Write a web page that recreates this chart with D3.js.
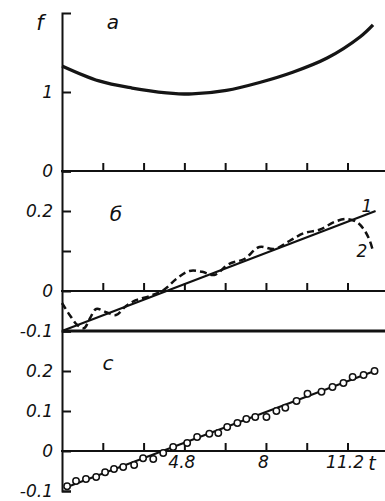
<!DOCTYPE html>
<html lang="en">
<head>
<meta charset="UTF-8">
<title>f(t) panels</title>
<script src="https://cdn.jsdelivr.net/npm/d3@7"></script>
<style>
  body { margin: 0; background: #fff; }
  svg { display: block; }
  text { font-family: "DejaVu Sans", sans-serif; font-style: italic; fill: #111; }
  .axis path, .axis line { stroke: #111; stroke-width: 2; }
  .axis text { font-size: 17px; font-family: "DejaVu Sans", sans-serif; font-style: italic; }
</style>
</head>
<body>
<script>
// x ticks (t)
const tickT = [1.6, 3.2, 4.8, 6.4, 8, 9.6, 11.2];
const labelT = [4.8, 8, 11.2];

// panel a: f(t)
const fT = [0, 1.45, 2.75, 4.1, 5.1, 6.45, 7.75, 9.05, 10.4, 11.7, 12.2];
const fV = [1.33, 1.14, 1.05, 0.99, 0.975, 1.02, 1.12, 1.25, 1.43, 1.70, 1.85];

// panel b: straight line 1 and dashed curve 2
const lineT = [0, 12.3];
const lineV = [-0.1, 0.2];
const dashT = [0, 0.3, 0.6, 0.86, 1.1, 1.34, 1.73, 2.12, 2.5, 2.9, 3.42, 4.0, 4.48, 5.0, 5.5, 5.97,
  6.56, 7.15, 7.74, 8.33, 8.92, 9.5, 10.1, 10.7, 11.16, 11.55, 11.83, 12.06, 12.2];
const dashV = [-0.03, -0.06, -0.085, -0.093, -0.068, -0.045, -0.053, -0.06, -0.038, -0.023, -0.013, 0.003,
  0.03, 0.05, 0.048, 0.04, 0.068, 0.08, 0.11, 0.105, 0.125, 0.145, 0.153, 0.173, 0.18, 0.173, 0.155, 0.128, 0.1];

// panel c: fitted line and measured points
const fitT = [0.2, 12.26];
const fitV = [-0.09, 0.2];
const dotT = [0.2, 0.55, 0.94, 1.34, 1.69, 2.04, 2.4, 2.83, 3.18, 3.58, 3.97, 4.36, 4.91, 5.3, 5.78, 6.13,
  6.48, 6.88, 7.23, 7.58, 8.02, 8.41, 8.76, 9.2, 9.63, 10.18, 10.61, 11.04, 11.4, 11.83, 12.26];
const dotV = [-0.088, -0.075, -0.07, -0.065, -0.053, -0.045, -0.04, -0.035, -0.018, -0.02, -0.005, 0.01,
  0.02, 0.035, 0.043, 0.045, 0.06, 0.07, 0.08, 0.085, 0.085, 0.1, 0.108, 0.125, 0.143, 0.148, 0.16, 0.17,
  0.185, 0.19, 0.2];

let width = 385;
let height = 501;

let svg = d3.select('body').append('svg')
  .attr('width', width)
  .attr('height', height);

let x = d3.scaleLinear().domain([0, 12.67]).range([62, 385]);
let yA = d3.scaleLinear().domain([0, 2]).range([171, 13]);
let yB = d3.scaleLinear().domain([-0.1, 0.3]).range([331, 171]);
let yC = d3.scaleLinear().domain([-0.1, 0.3]).range([491, 331]);

function yAxis(scale, values, fmt) {
  return d3.axisLeft(scale)
    .tickValues(values)
    .tickSizeInner(-9)
    .tickSizeOuter(-9)
    .tickPadding(9)
    .tickFormat(fmt);
}

function xAxis(y, withLabels) {
  let g = svg.append('g')
    .attr('class', 'axis')
    .attr('transform', 'translate(0,' + y + ')')
    .call(d3.axisBottom(x)
      .tickValues(tickT)
      .tickSizeInner(-8)
      .tickSizeOuter(0)
      .tickPadding(5)
      .tickFormat(d => withLabels && labelT.indexOf(d) >= 0 ? d : ''));
  g.select('.domain').attr('d', 'M' + (x(0) - 1) + ',0H' + width);
  g.selectAll('text').attr('dx', -3);
}

// y axes
svg.append('g').attr('class', 'axis').attr('transform', 'translate(62,0)')
  .call(yAxis(yA, [0, 1], d => d));
svg.append('g').attr('class', 'axis').attr('transform', 'translate(62,0)')
  .call(yAxis(yB, [-0.1, 0, 0.1, 0.2], d => d === 0.1 ? '' : d));
svg.append('g').attr('class', 'axis').attr('transform', 'translate(62,0)')
  .call(yAxis(yC, [-0.1, 0, 0.1, 0.2], d => d));

// x axes / panel separators
xAxis(yA(0), false);
xAxis(yB(0), false);
xAxis(yC(0), true);

svg.append('line')
  .attr('x1', x(0)).attr('x2', width)
  .attr('y1', yB(-0.1)).attr('y2', yB(-0.1))
  .attr('stroke', '#111').attr('stroke-width', 3);

// panel a curve
svg.append('path')
  .datum(d3.zip(fT, fV))
  .attr('fill', 'none')
  .attr('stroke', '#151515')
  .attr('stroke-width', 3.3)
  .attr('d', d3.line().x(d => x(d[0])).y(d => yA(d[1])).curve(d3.curveCatmullRom));

// panel b
svg.append('path')
  .datum(d3.zip(lineT, lineV))
  .attr('fill', 'none')
  .attr('stroke', '#111')
  .attr('stroke-width', 2.2)
  .attr('d', d3.line().x(d => x(d[0])).y(d => yB(d[1])));

svg.append('path')
  .datum(d3.zip(dashT, dashV))
  .attr('fill', 'none')
  .attr('stroke', '#111')
  .attr('stroke-width', 2.5)
  .attr('stroke-dasharray', '7,4')
  .attr('d', d3.line().x(d => x(d[0])).y(d => yB(d[1])).curve(d3.curveCatmullRom));

// panel c
svg.append('path')
  .datum(d3.zip(fitT, fitV))
  .attr('fill', 'none')
  .attr('stroke', '#111')
  .attr('stroke-width', 2)
  .attr('d', d3.line().x(d => x(d[0])).y(d => yC(d[1])));

svg.append('g').selectAll('circle')
  .data(d3.zip(dotT, dotV))
  .join('circle')
  .attr('cx', d => x(d[0]))
  .attr('cy', d => yC(d[1]))
  .attr('r', 3.2)
  .attr('fill', '#fff')
  .attr('stroke', '#111')
  .attr('stroke-width', 1.5);

// letters
let labels = [
  { s: 'f', x: 40, y: 30, size: 21 },
  { s: 'a', x: 113, y: 29, size: 20 },
  { s: 'б', x: 116, y: 221, size: 20 },
  { s: 'c', x: 108, y: 370, size: 20 },
  { s: '1', x: 367, y: 212, size: 17 },
  { s: '2', x: 362, y: 257, size: 17 },
  { s: 't', x: 372, y: 470, size: 19 }
];
svg.append('g').selectAll('text')
  .data(labels)
  .join('text')
  .attr('x', d => d.x)
  .attr('y', d => d.y)
  .attr('text-anchor', 'middle')
  .attr('font-size', d => d.size)
  .text(d => d.s);
</script>
</body>
</html>
